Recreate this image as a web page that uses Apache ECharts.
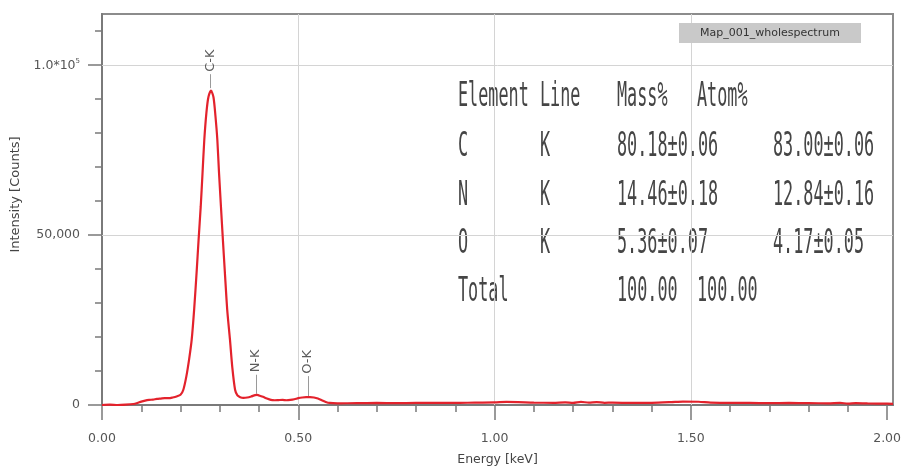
<!DOCTYPE html>
<html>
<head>
<meta charset="utf-8">
<script src="https://cdn.jsdelivr.net/npm/echarts@6/dist/echarts.min.js"></script>
<style>
html,body{margin:0;padding:0;background:#fff;}
#chart{width:902px;height:466px;}
</style>
</head>
<body>
<div id="chart"></div>
<script>
// ---- spectrum data (keV, counts) ----
const energy = [0.00,0.02,0.04,0.06,0.08,0.09,0.10,0.11,0.12,0.13,0.14,0.15,0.16,0.17,0.18,0.19,0.20,0.207,0.215,0.222,0.2285,0.235,0.241,0.246,0.2515,0.256,0.2606,0.266,0.271,0.2777,0.284,0.289,0.2938,0.298,0.303,0.308,0.313,0.319,0.326,0.332,0.339,0.345,0.352,0.36,0.37,0.38,0.39,0.395,0.40,0.41,0.42,0.43,0.44,0.45,0.46,0.47,0.48,0.49,0.50,0.51,0.52,0.53,0.54,0.55,0.56,0.57,0.58,0.60,0.65,0.70,0.75,0.80,0.85,0.90,0.95,1.00,1.03,1.06,1.10,1.15,1.18,1.20,1.22,1.24,1.26,1.28,1.30,1.35,1.40,1.45,1.48,1.52,1.55,1.60,1.65,1.70,1.75,1.80,1.85,1.88,1.90,1.92,1.95,2.00,2.015];
const counts = [0,100,0,100,300,600,1000,1300,1500,1600,1800,1900,2000,2000,2200,2500,3000,4400,8500,13500,19200,28500,39000,48500,58400,68000,78000,86000,90500,92500,90500,85000,78000,68500,58400,48500,39000,28000,19200,11000,4500,2800,2300,2100,2200,2500,2900,2950,2800,2400,1900,1500,1400,1450,1500,1400,1500,1700,2000,2200,2300,2300,2200,1900,1400,900,600,500,550,600,550,600,650,600,700,750,900,850,700,650,800,600,900,700,850,650,700,600,650,850,1000,950,700,600,600,550,600,550,500,650,400,550,450,400,350];

// ---- peak identification ----
const peakNames = ['C-K','N-K','O-K'];
const peakEnergy = [0.277,0.392,0.525];
const peakLabelBase = [98000,9600,9200];
const peakLeaderTop = [97300,8900,8500];
const peakLeaderBottom = [93200,3300,2600];

// ---- axes ----
const xMajorTicks = [0,0.5,1.0,1.5,2.0];
const xMinorTicks = [0.1,0.2,0.3,0.4,0.6,0.7,0.8,0.9,1.1,1.2,1.3,1.4,1.6,1.7,1.8,1.9];
const yMajorTicks = [0,50000,100000];
const yMinorTicks = [10000,20000,30000,40000,60000,70000,80000,90000,110000];
const xGridLines = [0.5,1.0,1.5];
const yGridLines = [50000,100000];
const xMin = 0, xMax = 2.015, yMin = 0, yMax = 115000;

// ---- quantification table ----
const tableHeader = ['Element','Line','Mass%','Atom%'];
const tableElements = ['C','N','O'];
const tableLines = ['K','K','K'];
const tableMass = ['80.18±0.06','14.46±0.18','5.36±0.07'];
const tableAtom = ['83.00±0.06','12.84±0.16','4.17±0.05'];
const tableTotalLabel = 'Total';
const tableTotals = ['100.00','100.00'];
const spectrumName = 'Map_001_wholespectrum';

const chart = echarts.init(document.getElementById('chart'), null, {renderer:'canvas'});

const lblFont = 'DejaVu Sans';
const axisGray = '#7a7a7a';

function yLabel(v){
  if (v === 0) return '0';
  if (v === 50000) return '50,000';
  if (v === 100000) return '{a|1.0*10}{s|5}';
  return '';
}

// table graphics
const mono = '20px "DejaVu Sans Mono"';
const sx = 0.84, sy = 1.68;
const colX = {el:458, line:540, mass:617, atom:773, tot2:697};
const rowY = [97,147,196,244,292];
function cell(text, x, y){
  return {type:'text', x:x, y:y, scaleX:sx, scaleY:sy, silent:true,
    style:{text:text, font:mono, fill:'#454545', align:'left', verticalAlign:'middle'}};
}
const tableGraphics = [];
tableGraphics.push(cell(tableHeader[0], colX.el, rowY[0]));
tableGraphics.push(cell(tableHeader[1], colX.line, rowY[0]));
tableGraphics.push(cell(tableHeader[2], colX.mass, rowY[0]));
tableGraphics.push(cell(tableHeader[3], colX.tot2, rowY[0]));
for (let i=0;i<tableElements.length;i++){
  tableGraphics.push(cell(tableElements[i], colX.el, rowY[i+1]));
  tableGraphics.push(cell(tableLines[i], colX.line, rowY[i+1]));
  tableGraphics.push(cell(tableMass[i], colX.mass, rowY[i+1]));
  tableGraphics.push(cell(tableAtom[i], colX.atom, rowY[i+1]));
}
tableGraphics.push(cell(tableTotalLabel, colX.el, rowY[4]));
tableGraphics.push(cell(tableTotals[0], colX.mass, rowY[4]));
tableGraphics.push(cell(tableTotals[1], colX.tot2, rowY[4]));

tableGraphics.push({type:'rect', shape:{x:679,y:23,width:182,height:20}, silent:true, style:{fill:'#c9c9c9'}, z:10});
tableGraphics.push({type:'text', x:770, y:33, silent:true, z:11,
  style:{text:spectrumName, font:'11px "DejaVu Sans"', fill:'#333', align:'center', verticalAlign:'middle'}});

const option = {
  animation:false,
  backgroundColor:'#ffffff',
  grid:{left:102, right:9, top:14, bottom:61, show:true, borderColor:'#8c8c8c', borderWidth:2, containLabel:false, outerBoundsMode:'none'},
  xAxis:[{
    type:'value', min:xMin, max:xMax, position:'bottom',
    name:'Energy [keV]', nameLocation:'middle', nameGap:48,
    nameTextStyle:{fontFamily:lblFont, fontSize:12.5, color:'#444'},
    axisLine:{show:true, onZero:true, lineStyle:{color:axisGray, width:2}},
    axisTick:{show:true, customValues:xMajorTicks, length:15, lineStyle:{color:axisGray, width:1.5}},
    axisLabel:{show:true, customValues:xMajorTicks, margin:27, fontFamily:lblFont, fontSize:12.5, color:'#555',
      formatter:v=>Number(v).toFixed(2)},
    splitLine:{show:false}
  },{
    type:'value', min:xMin, max:xMax, position:'bottom', offset:0,
    axisLine:{show:false},
    axisTick:{show:true, customValues:xMinorTicks, length:7, lineStyle:{color:axisGray, width:1.5}},
    axisLabel:{show:false},
    splitLine:{show:false}
  }],
  yAxis:[{
    type:'value', min:yMin, max:yMax, position:'left',
    name:'Intensity [Counts]', nameLocation:'middle', nameGap:70, nameRotate:90,
    nameTextStyle:{fontFamily:lblFont, fontSize:13, color:'#444', padding:[0,0,0,30]},
    axisLine:{show:true, lineStyle:{color:axisGray, width:2}},
    axisTick:{show:true, customValues:yMajorTicks, length:14, lineStyle:{color:axisGray, width:1.5}},
    axisLabel:{show:true, customValues:yMajorTicks, margin:22, fontFamily:lblFont, fontSize:12.5, color:'#555',
      formatter:yLabel,
      rich:{a:{fontFamily:lblFont, fontSize:12.5, color:'#555', verticalAlign:'bottom'},
            s:{fontFamily:lblFont, fontSize:7, color:'#555', verticalAlign:'bottom', padding:[0,0,7,0]}}},
    splitLine:{show:false}
  },{
    type:'value', min:yMin, max:yMax, position:'left', offset:0,
    axisLine:{show:false},
    axisTick:{show:true, customValues:yMinorTicks, length:7, lineStyle:{color:axisGray, width:1.5}},
    axisLabel:{show:false},
    splitLine:{show:false}
  }],
  graphic: tableGraphics,
  series:[{
    name:'grid', type:'line', data:[], z:1, silent:true,
    markLine:{silent:true, symbol:['none','none'], animation:false,
      label:{show:false},
      lineStyle:{color:'#d4d4d4', width:1, type:'solid'},
      data: xGridLines.map(v=>({xAxis:v})).concat(yGridLines.map(v=>({yAxis:v})))}
  },{
    name:'leaders', type:'line', data:[], z:2, silent:true,
    markLine:{silent:true, symbol:['none','none'], animation:false,
      label:{show:false},
      lineStyle:{color:'#9a9a9a', width:1, type:'solid'},
      data: peakEnergy.map((e,i)=>[{coord:[e, peakLeaderTop[i]]},{coord:[e, peakLeaderBottom[i]]}])}
  },{
    name:'spectrum', type:'line', z:5,
    data: energy.map((e,i)=>[e, counts[i]]),
    showSymbol:false, symbol:'none', smooth:0.25,
    lineStyle:{color:'#e3222c', width:2.2},
    itemStyle:{color:'#e3222c'}
  },{
    name:'peaks', type:'scatter', z:6, silent:true,
    symbolSize:1, itemStyle:{color:'rgba(0,0,0,0)'},
    data: peakEnergy.map((e,i)=>[e, peakLabelBase[i]]),
    label:{show:true, position:'inside', rotate:90, align:'left', verticalAlign:'middle',
      fontFamily:lblFont, fontSize:13, color:'#333',
      formatter:p=>peakNames[p.dataIndex]}
  }]
};
chart.setOption(option);
</script>
</body>
</html>
